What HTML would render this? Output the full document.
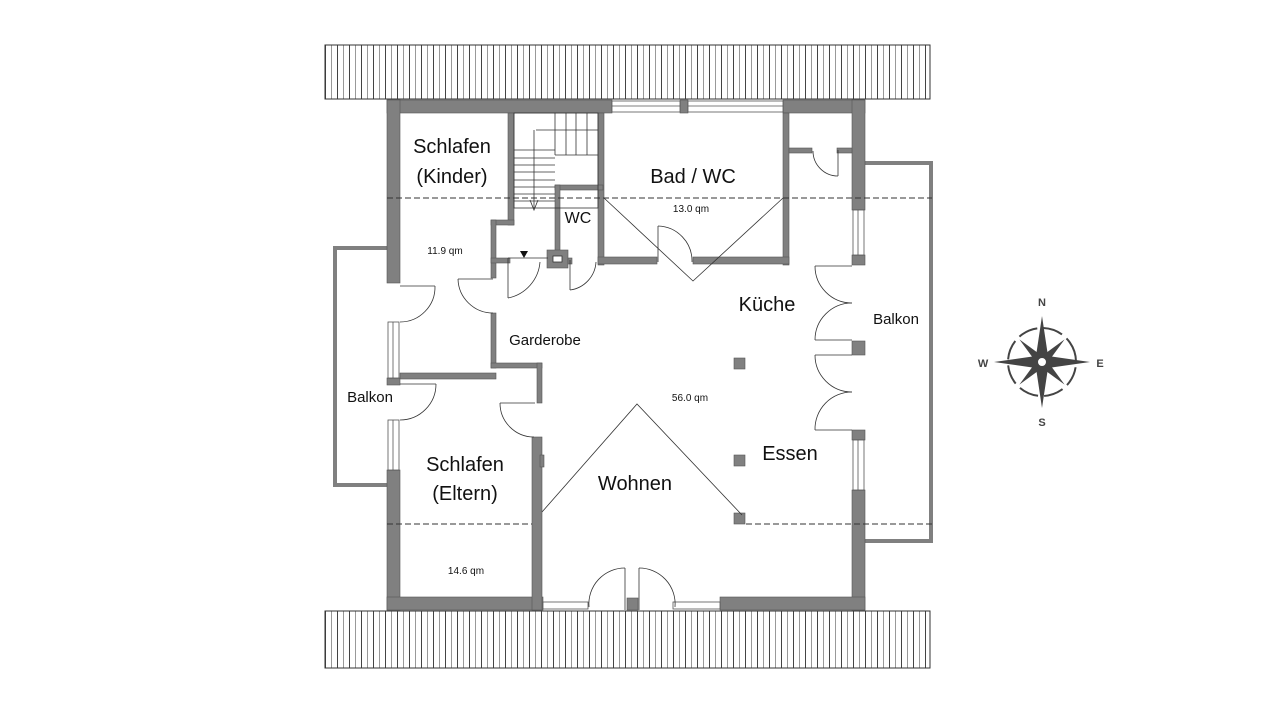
<!DOCTYPE html>
<html><head><meta charset="utf-8"><style>
html,body{margin:0;padding:0;background:#fff}
svg{display:block}
text{font-family:"Liberation Sans","DejaVu Sans",sans-serif;fill:#111}
</style></head><body>
<svg width="1280" height="720" viewBox="0 0 1280 720" xmlns="http://www.w3.org/2000/svg">
<defs>
<pattern id="roof" x="325" y="0" width="12" height="10" patternUnits="userSpaceOnUse">
<rect width="12" height="10" fill="#fff"/>
<line x1="0.5" y1="0" x2="0.5" y2="10" stroke="#444" stroke-width="1"/>
<line x1="6.5" y1="0" x2="6.5" y2="10" stroke="#999" stroke-width="1"/>
</pattern>
</defs>
<!-- roofs -->
<rect x="325" y="45" width="605" height="54" fill="url(#roof)" stroke="#333" stroke-width="1"/>
<rect x="325" y="611" width="605" height="57" fill="url(#roof)" stroke="#333" stroke-width="1"/>

<!-- balconies -->
<polyline points="387,248 335,248 335,485 387,485" fill="none" stroke="#808080" stroke-width="4"/>
<polyline points="865,163 931,163 931,541 865,541" fill="none" stroke="#808080" stroke-width="4"/>

<g fill="#808080" stroke="#555" stroke-width="0.6">
<!-- top wall -->
<rect x="387" y="100" width="225" height="13"/>
<rect x="680" y="100" width="8" height="13"/>
<rect x="783" y="100" width="82" height="13"/>
<!-- left wall -->
<rect x="387" y="100" width="13" height="183"/>
<rect x="387" y="378" width="13" height="7"/>
<rect x="387" y="470" width="13" height="140"/>
<!-- right wall -->
<rect x="852" y="100" width="13" height="110"/>
<rect x="852" y="255" width="13" height="10"/>
<rect x="852" y="341" width="13" height="14"/>
<rect x="852" y="430" width="13" height="10"/>
<rect x="852" y="490" width="13" height="120"/>
<!-- bottom wall -->
<rect x="387" y="597" width="156" height="13"/>
<rect x="720" y="597" width="145" height="13"/>
<rect x="627" y="598" width="11" height="12"/>
<!-- interior: Kinder right wall -->
<rect x="508" y="113" width="6" height="112"/>
<rect x="491" y="220" width="23" height="5"/>
<rect x="491" y="220" width="5" height="58"/>
<rect x="491" y="258" width="19" height="5"/>
<rect x="491" y="313" width="5" height="55"/>
<rect x="400" y="373" width="96" height="6"/>
<rect x="491" y="363" width="51" height="5"/>
<rect x="537" y="363" width="5" height="40"/>
<rect x="532" y="437" width="10" height="173"/>
<rect x="540" y="455" width="4" height="12"/>
<!-- stair/WC -->
<rect x="598" y="113" width="6" height="152"/>
<rect x="555" y="185" width="48" height="5"/>
<rect x="555" y="185" width="5" height="68"/>
<rect x="547" y="250" width="21" height="18"/>
<rect x="568" y="258" width="4" height="6"/>
<!-- Bad -->
<rect x="783" y="113" width="6" height="152"/>
<rect x="598" y="257" width="59" height="7"/>
<rect x="693" y="257" width="96" height="7"/>
<rect x="789" y="148" width="23" height="5"/>
<rect x="837" y="148" width="15" height="5"/>
<!-- columns -->
<rect x="734" y="358" width="11" height="11"/>
<rect x="734" y="455" width="11" height="11"/>
<rect x="734" y="513" width="11" height="11"/>
</g>
<rect x="553" y="256" width="9" height="6" fill="#fff" stroke="#333" stroke-width="0.8"/>

<!-- windows -->
<g fill="#fff" stroke="#555" stroke-width="0.8">
<rect x="612" y="101" width="68" height="11"/><line x1="612" y1="106" x2="680" y2="106"/>
<rect x="688" y="101" width="95" height="11"/><line x1="688" y1="106" x2="783" y2="106"/>
<rect x="388" y="322" width="11" height="56"/><line x1="393" y1="322" x2="393" y2="378"/>
<rect x="388" y="420" width="11" height="50"/><line x1="393" y1="420" x2="393" y2="470"/>
<rect x="853" y="210" width="11" height="45"/><line x1="858" y1="210" x2="858" y2="255"/>
<rect x="853" y="440" width="11" height="50"/><line x1="858" y1="440" x2="858" y2="490"/>
<rect x="543" y="602" width="45" height="7"/>
<rect x="673" y="602" width="47" height="7"/>
</g>

<!-- stairs -->
<g fill="none" stroke="#333" stroke-width="0.8">
<rect x="514" y="113" width="84" height="95"/>
<line x1="555" y1="113" x2="555" y2="155"/>
<line x1="555" y1="155" x2="598" y2="155"/>
<line x1="555" y1="130" x2="598" y2="130"/>
<line x1="536" y1="130" x2="555" y2="130"/>
<line x1="566" y1="113" x2="566" y2="155"/>
<line x1="576" y1="113" x2="576" y2="155"/>
<line x1="587" y1="113" x2="587" y2="155"/>
<line x1="514" y1="150" x2="555" y2="150"/>
<line x1="514" y1="158" x2="555" y2="158"/>
<line x1="514" y1="165" x2="555" y2="165"/>
<line x1="514" y1="172" x2="555" y2="172"/>
<line x1="514" y1="180" x2="555" y2="180"/>
<line x1="514" y1="187" x2="555" y2="187"/>
<line x1="514" y1="194" x2="555" y2="194"/>
<line x1="514" y1="201" x2="555" y2="201"/>
<line x1="534" y1="130" x2="534" y2="208"/>
<polyline points="530,200 534,210 538,200"/>
</g>
<polygon points="520,251 528,251 524,258" fill="#111"/>

<!-- dashed lines -->
<g stroke="#333" stroke-width="1" stroke-dasharray="6,3" fill="none">
<line x1="387" y1="198" x2="932" y2="198"/>
<line x1="387" y1="524" x2="532" y2="524"/>
<line x1="746" y1="524" x2="932" y2="524"/>
</g>
<!-- roof diagonal lines -->
<g stroke="#333" stroke-width="0.8" fill="none">
<polyline points="604,198 693,281 783,198"/>
<polyline points="542,512 637,404 742,515"/>
</g>

<!-- doors -->
<g stroke="#333" stroke-width="0.8" fill="none">
<!-- left balcony door (Kinder) -->
<line x1="400" y1="286" x2="435" y2="286"/>
<path d="M435,286 A35,35 0 0 1 400,322"/>
<!-- left balcony door (Eltern) -->
<line x1="400" y1="384" x2="436" y2="384"/>
<path d="M436,384 A36,36 0 0 1 400,420"/>
<!-- Kinder door -->
<line x1="458" y1="279" x2="493" y2="279"/>
<path d="M458,279 A35,35 0 0 0 493,313"/>
<!-- Eltern door -->
<line x1="500" y1="403" x2="535" y2="403"/>
<path d="M500,403 A34,34 0 0 0 534,437"/>
<!-- stair door -->
<line x1="508" y1="258" x2="548" y2="258"/>
<line x1="508" y1="258" x2="508" y2="298"/>
<path d="M508,298 A40,40 0 0 0 540,262"/>
<!-- WC door -->
<line x1="570" y1="260" x2="570" y2="290"/>
<path d="M570,290 A30,30 0 0 0 596,262"/>
<!-- Bad door -->
<line x1="658" y1="226" x2="658" y2="262"/>
<path d="M658,226 A35,35 0 0 1 692,262"/>
<!-- closet door -->
<line x1="838" y1="150" x2="838" y2="176"/>
<path d="M838,176 A25,25 0 0 1 813,151"/>
<!-- right balcony doors -->
<line x1="815" y1="266" x2="852" y2="266"/>
<path d="M815,266 A37,37 0 0 0 852,303"/>
<line x1="815" y1="340" x2="852" y2="340"/>
<path d="M815,340 A37,37 0 0 1 852,303"/>
<line x1="815" y1="355" x2="852" y2="355"/>
<path d="M815,355 A37,37 0 0 0 852,392"/>
<line x1="815" y1="430" x2="852" y2="430"/>
<path d="M815,430 A37,37 0 0 1 852,392"/>
<!-- bottom double door -->
<line x1="625" y1="568" x2="625" y2="610"/>
<path d="M625,568 A36,36 0 0 0 589,607"/>
<line x1="639" y1="568" x2="639" y2="610"/>
<path d="M639,568 A36,36 0 0 1 675,607"/>
</g>

<!-- labels -->
<g font-size="20" text-anchor="middle">
<text x="452" y="153">Schlafen</text>
<text x="452" y="183">(Kinder)</text>
<text x="693" y="183">Bad / WC</text>
<text x="767" y="311">Küche</text>
<text x="790" y="460">Essen</text>
<text x="635" y="490">Wohnen</text>
<text x="465" y="471">Schlafen</text>
<text x="465" y="500">(Eltern)</text>
</g>
<g font-size="16" text-anchor="middle">
<text x="578" y="223">WC</text>
</g>
<g font-size="15" text-anchor="middle">
<text x="545" y="345">Garderobe</text>
<text x="370" y="402">Balkon</text>
<text x="896" y="324">Balkon</text>
</g>
<g font-size="10" text-anchor="middle">
<text x="445" y="254">11.9 qm</text>
<text x="691" y="212">13.0 qm</text>
<text x="690" y="401">56.0 qm</text>
<text x="466" y="574">14.6 qm</text>
</g>

<!-- compass -->
<g transform="translate(1042,362)">
<circle r="34" fill="none" stroke="#444" stroke-width="2" stroke-dasharray="20,6" transform="rotate(-35)"/>
<g fill="#444">
<polygon points="0,-46 6,-6 0,0 -6,-6"/>
<polygon points="0,46 6,6 0,0 -6,6"/>
<polygon points="-48,0 -6,-6 0,0 -6,6"/>
<polygon points="48,0 6,-6 0,0 6,6"/>
<g transform="rotate(45)">
<polygon points="0,-32 4,-6 0,0 -4,-6"/>
<polygon points="0,32 4,6 0,0 -4,6"/>
<polygon points="-32,0 -6,-4 0,0 -6,4"/>
<polygon points="32,0 6,-4 0,0 6,4"/>
</g>
</g>
<circle r="5" fill="#fff" stroke="#444" stroke-width="2"/>
<g font-size="11" font-weight="bold" text-anchor="middle" fill="#444">
<text x="0" y="-56" style="fill:#444">N</text>
<text x="0" y="64" style="fill:#444">S</text>
<text x="-59" y="5" style="fill:#444">W</text>
<text x="58" y="5" style="fill:#444">E</text>
</g>
</g>
</svg>
</body></html>
